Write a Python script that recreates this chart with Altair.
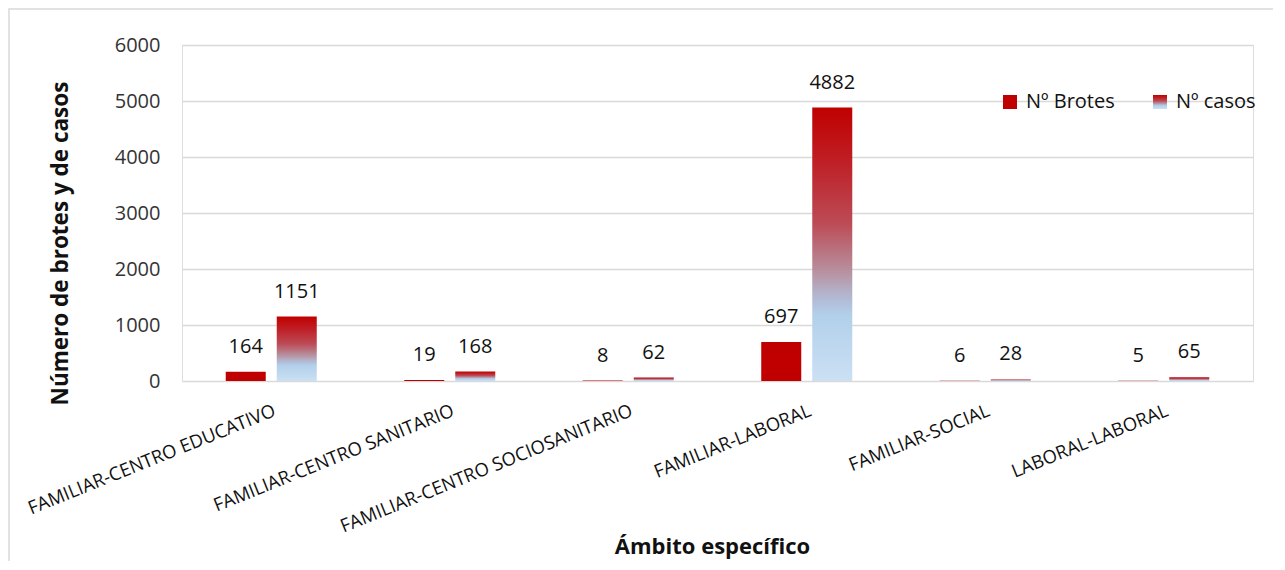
import altair as alt
import pandas as pd

categories = [
    "FAMILIAR-CENTRO EDUCATIVO",
    "FAMILIAR-CENTRO SANITARIO",
    "FAMILIAR-CENTRO SOCIOSANITARIO",
    "FAMILIAR-LABORAL",
    "FAMILIAR-SOCIAL",
    "LABORAL-LABORAL",
]
series = ["Nº Brotes", "Nº casos"]
brotes = [164, 19, 8, 697, 6, 5]
casos = [1151, 168, 62, 4882, 28, 65]
y_ticks = [0, 1000, 2000, 3000, 4000, 5000, 6000]

rows = []
for c, b, k in zip(categories, brotes, casos):
    rows.append({"ambito": c, "serie": series[0], "valor": b})
    rows.append({"ambito": c, "serie": series[1], "valor": k})
df = pd.DataFrame(rows)

FONT = "Open Sans"
RED = "#C00000"
grad_expr = (
    "{gradient: 'linear', x1: 0, y1: 0, x2: 0, y2: 1, stops: ["
    "{offset: 0, color: '#C00000'},"
    "{offset: 0.18, color: '#BF1C22'},"
    "{offset: 0.42, color: '#BC4A55'},"
    "{offset: 0.6, color: '#B7919F'},"
    "{offset: 0.68, color: '#B3B3CC'},"
    "{offset: 0.76, color: '#B2D0EB'},"
    "{offset: 1, color: '#CBE0F3'}]}"
)

x_enc = alt.X(
    "ambito:N",
    sort=categories,
    scale=alt.Scale(paddingInner=0.49, paddingOuter=0.245),
    axis=alt.Axis(
        title="Ámbito específico",
        titleFont=FONT,
        titleFontSize=22,
        titleFontWeight="bold",
        titleColor="#111111",
        titleX=530,
        titleY=172,
        titleAnchor="start",
        titleAlign="center",
        titleBaseline="alphabetic",
        labelAngle=338,
        labelAlign="right",
        labelBaseline="top",
        labelPadding=20,
        labelFont=FONT,
        labelFontSize=18.5,
        labelColor="#111111",
        labelLimit=400,
        domain=False,
        ticks=False,
        grid=False,
    ),
)
xoff = alt.XOffset(
    "serie:N", sort=series, scale=alt.Scale(domain=series, paddingInner=0.2157, paddingOuter=0)
)
y_enc = alt.Y(
    "valor:Q",
    scale=alt.Scale(domain=[0, 6000], nice=False),
    axis=alt.Axis(
        values=y_ticks,
        format="d",
        title="Número de brotes y de casos",
        titleFont=FONT,
        titleFontSize=22.5,
        titleFontWeight="bold",
        titleColor="#111111",
        titleAngle=270,
        titleX=-115,
        titleY=198,
        titleAlign="center",
        titleBaseline="alphabetic",
        labelFont=FONT,
        labelFontSize=20,
        labelColor="#333333",
        labelPadding=22,
        domain=False,
        ticks=False,
        grid=True,
        gridColor="#D9D9D9",
        gridWidth=1.5,
    ),
)

base = alt.Chart(df).encode(x=x_enc, xOffset=xoff, y=y_enc)

bars = base.mark_bar().encode(
    color=alt.Color(
        "serie:N",
        scale=alt.Scale(domain=series, range=[RED, alt.ExprRef(expr=grad_expr)]),
        legend=alt.Legend(
            title=None,
            orient="none",
            direction="horizontal",
            legendX=818,
            legendY=47,
            symbolType="square",
            symbolSize=196,
            symbolStrokeWidth=0,
            labelFont=FONT,
            labelFontSize=20,
            labelColor="#111111",
            labelOffset=6,
            columnPadding=35,
            padding=0,
        ),
    )
)

labels = base.mark_text(
    baseline="alphabetic", dy=-19, font=FONT, fontSize=20, color="#111111"
).encode(text="valor:Q")

frame = alt.Chart(alt.Data(values=[{"k": 1}])).mark_rect(
    filled=False, stroke="#D9D9D9", strokeWidth=1.5
).encode(
    x=alt.value(-173), x2=alt.value(1300), y=alt.value(-36), y2=alt.value(700)
)

chart = (
    alt.layer(frame, bars, labels)
    .properties(
        width=1071,
        height=336,
        autosize=alt.AutoSizeParams(type="none"),
        padding={"left": 174, "top": 37, "right": 20, "bottom": 180},
    )
    .configure_view(stroke=None)
    .configure(font=FONT)
)

chart.save("out.html", embed_options={"renderer": "svg", "actions": False})
